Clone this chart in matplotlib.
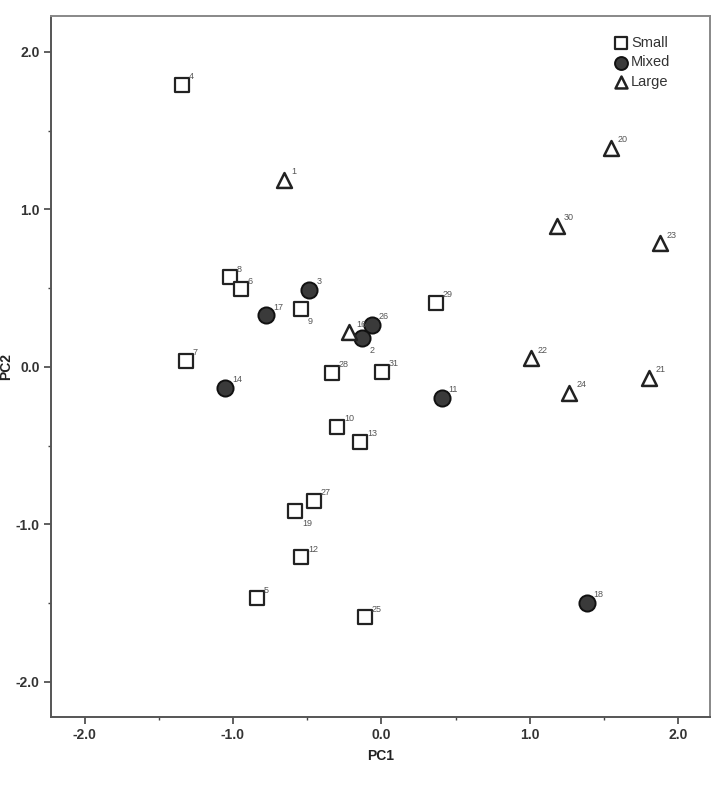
import numpy as np
import matplotlib
matplotlib.use("Agg")
import matplotlib.pyplot as plt
from matplotlib.ticker import MultipleLocator, FormatStrFormatter

plt.rcParams['font.family'] = ['Liberation Sans', 'DejaVu Sans']

# PCA scores
small_id = [4, 8, 6, 9, 29, 7, 28, 31, 10, 13, 27, 19, 12, 5, 25]
small_x = [-1.344, -1.019, -0.946, -0.544, 0.367, -1.316, -0.333, 0.001, -0.298, -0.145, -0.455, -0.582, -0.542, -0.840, -0.111]
small_y = [1.791, 0.567, 0.493, 0.366, 0.408, 0.039, -0.037, -0.030, -0.380, -0.475, -0.852, -0.914, -1.210, -1.470, -1.591]

mixed_id = [3, 17, 26, 2, 14, 11, 18]
mixed_x = [-0.486, -0.778, -0.066, -0.129, -1.052, 0.405, 1.382]
mixed_y = [0.489, 0.328, 0.268, 0.186, -0.134, -0.196, -1.498]

large_id = [1, 20, 30, 23, 22, 24, 21, 16]
large_x = [-0.657, 1.545, 1.180, 1.875, 1.007, 1.265, 1.803, -0.219]
large_y = [1.188, 1.390, 0.895, 0.785, 0.055, -0.164, -0.069, 0.220]

below = [9, 2, 19]  # labels sitting below-right of the mark

fig = plt.figure(figsize=(7.2, 7.96), dpi=100)
ax = fig.add_axes([0.0708, 0.0992, 0.915, 0.881])

ax.scatter(small_x, small_y, marker="s", s=115, facecolors="white", edgecolors="#222222", linewidths=1.6, label="Small", zorder=3)
ax.scatter(mixed_x, mixed_y, marker="o", s=135, facecolors="#3a3a3a", edgecolors="#111111", linewidths=1.4, label="Mixed", zorder=3)
ax.scatter(large_x, large_y, marker="^", s=115, facecolors="white", edgecolors="#222222", linewidths=1.8, label="Large", zorder=3)

def put_labels(ids, xs, ys):
    for i, x, y in zip(ids, xs, ys):
        off = (5, -11) if i in below else (5, 4)
        ax.annotate(str(i), (x, y), xytext=off, textcoords="offset points",
                    fontsize=6.5, color="#555555")

put_labels(small_id, small_x, small_y)
put_labels(mixed_id, mixed_x, mixed_y)
put_labels(large_id, large_x, large_y)

ax.set_xlim(-2.226, 2.212)
ax.set_ylim(-2.224, 2.229)
ax.xaxis.set_major_locator(MultipleLocator(1.0))
ax.yaxis.set_major_locator(MultipleLocator(1.0))
ax.xaxis.set_minor_locator(MultipleLocator(0.5))
ax.yaxis.set_minor_locator(MultipleLocator(0.5))
ax.xaxis.set_major_formatter(FormatStrFormatter("%.1f"))
ax.yaxis.set_major_formatter(FormatStrFormatter("%.1f"))
ax.tick_params(which="major", length=5, width=1.2, color="#444444", labelsize=10, labelcolor="#333333", direction="out", pad=3)
ax.tick_params(which="minor", length=2, width=1.0, color="#444444", direction="out")
for lab in ax.get_xticklabels() + ax.get_yticklabels():
    lab.set_fontweight("bold")

for side in ["left", "bottom", "right", "top"]:
    ax.spines[side].set_color("#555555")
    ax.spines[side].set_linewidth(1.4)
ax.spines["top"].set_color("#888888")
ax.spines["right"].set_color("#888888")

ax.set_xlabel("PC1", fontsize=10, fontweight="bold", color="#222222", labelpad=5)
ax.set_ylabel("PC2", fontsize=10, fontweight="bold", color="#222222", labelpad=2)

leg = ax.legend(loc="upper right", bbox_to_anchor=(0.949, 0.98), borderaxespad=0,
                frameon=False, prop={"size": 10.5}, handletextpad=0.2,
                labelspacing=0.4, markerscale=0.8, handlelength=1.0)
for t in leg.get_texts():
    t.set_color("#333333")

fig.savefig("out.png", dpi=100)
